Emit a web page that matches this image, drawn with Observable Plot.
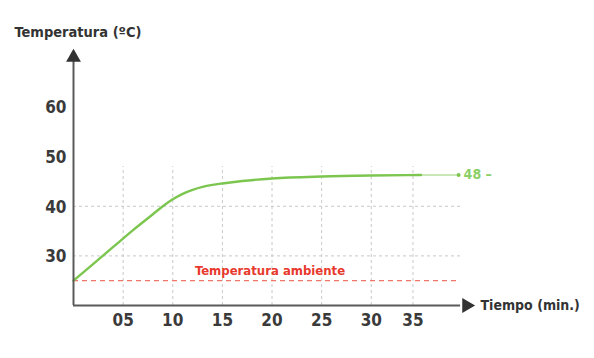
<!DOCTYPE html>
<html>
<head>
<meta charset="utf-8">
<script src="https://cdn.jsdelivr.net/npm/d3@7"></script>
<script src="https://cdn.jsdelivr.net/npm/@observablehq/plot@0.6"></script>
<style>
  html, body { margin: 0; padding: 0; background: #fff; }
  svg { display: block; }
</style>
</head>
<body>
<div id="chart"></div>
<script>
// Data
const time = [0, 2, 4, 6, 8, 9, 10, 11, 12, 13, 14, 15, 17, 20, 25, 30, 35];
const temperature = [25, 28.4, 31.8, 35.2, 38.4, 40.0, 41.4, 42.5, 43.3, 43.9, 44.3, 44.6, 45.1, 45.6, 46.0, 46.2, 46.3];
const fadeTime = [35, 38.8];
const fadeTemp = [46.3, 46.3];
const endLabel = "48 –";
const ambient = 25;
const ambientLabel = "Temperatura ambiente";
const xTickPos = [5, 10, 15, 20, 25, 30, 34.2];
const xTickLabels = ["05", "10", "15", "20", "25", "30", "35"];
const yTicks = [30, 40, 50, 60];
const yGrid = [30, 40];
const yTitle = "Temperatura (ºC)";
const xTitle = "Tiempo (min.)";

const curve = time.map((t, i) => ({t, v: temperature[i]}));
const fade = fadeTime.map((t, i) => ({t, v: fadeTemp[i]}));

const font = "'DejaVu Sans Condensed', 'DejaVu Sans', sans-serif";
const green = "#7cc650";
const axisColor = "#5a5a5a";

const chart = Plot.plot({
  width: 594,
  height: 358,
  marginLeft: 73,
  marginRight: 121,
  marginTop: 47,
  marginBottom: 53,
  x: {domain: [0, 40.3], axis: null},
  y: {domain: [20, 72], axis: null},
  style: {fontFamily: font, background: "#fff", overflow: "visible"},
  marks: [
    // grid
    Plot.ruleY(yGrid, {x1: 0, x2: 39, stroke: "#c8c8c8", strokeWidth: 1, strokeDasharray: "3,3"}),
    Plot.ruleX(xTickPos, {y1: 20, y2: 48, stroke: "#c8c8c8", strokeWidth: 1, strokeDasharray: "3,3"}),
    // ambient
    Plot.ruleY([ambient], {x1: 0, x2: 39, stroke: "#f0766a", strokeWidth: 1.2, strokeDasharray: "5,4"}),
    Plot.text([ambientLabel], {x: 19.8, y: 27, text: d => d, fill: "#e8392e", fontSize: 13, fontWeight: "bold"}),
    // curve
    Plot.line(fade, {x: "t", y: "v", stroke: "#c9e8b6", strokeWidth: 2.2}),
    Plot.line(curve, {x: "t", y: "v", stroke: green, strokeWidth: 2.4, curve: "monotone-x"}),
    Plot.dot(fade.slice(-1), {x: "t", y: "v", r: 2, fill: green}),
    Plot.text([endLabel], {x: fadeTime[1], y: fadeTemp[1], text: d => d, dx: 5, textAnchor: "start", fill: "#8ccf66", fontSize: 14, fontWeight: "bold"}),
    // axes
    Plot.ruleX([0], {y1: 20, y2: 69.5, stroke: axisColor, strokeWidth: 2}),
    Plot.ruleY([20], {x1: 0, x2: 39, stroke: axisColor, strokeWidth: 2}),
    Plot.dot([0], {x: 0, y: 70, symbol: "triangle", r: 5.5, fill: "#333", stroke: "none"}),
    Plot.dot([0], {x: 39.6, y: 20, symbol: "triangle", r: 5.5, rotate: 90, fill: "#333", stroke: "none"}),
    // tick labels
    Plot.text(xTickPos, {x: d => d, y: 20, dy: 15, text: (d, i) => xTickLabels[i], fill: "#3a3a3a", fontSize: 17, fontWeight: "bold"}),
    Plot.text(yTicks, {x: 0, y: d => d, dx: -7, dy: 1, text: d => String(d), textAnchor: "end", fill: "#3a3a3a", fontSize: 17, fontWeight: "bold"}),
    // titles
    Plot.text([yTitle], {frameAnchor: "top-left", dx: -59, dy: -21, text: d => d, textAnchor: "start", fill: "#333", fontSize: 14.5, fontWeight: "bold"}),
    Plot.text([xTitle], {x: 40.3, y: 20, dx: 7, text: d => d, textAnchor: "start", fill: "#333", fontSize: 14, fontWeight: "bold"})
  ]
});
document.getElementById("chart").appendChild(chart);
</script>
</body>
</html>
